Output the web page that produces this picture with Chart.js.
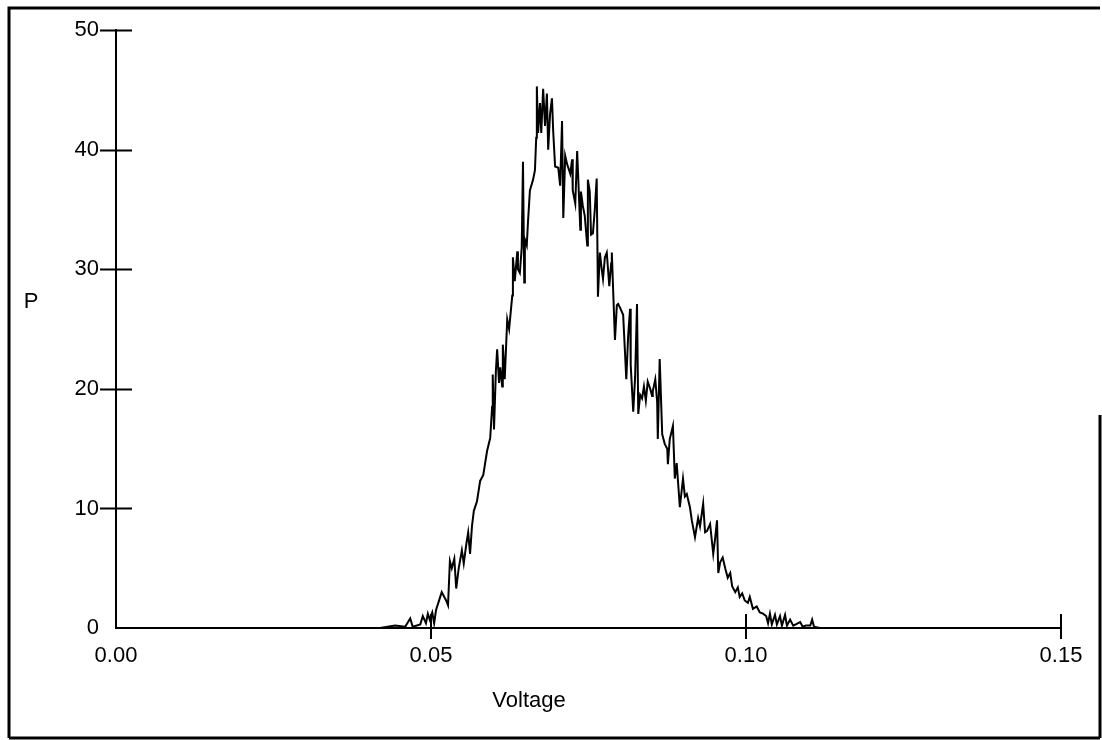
<!DOCTYPE html>
<html>
<head>
<meta charset="utf-8">
<script src="https://cdn.jsdelivr.net/npm/chart.js@4.4.1/dist/chart.umd.min.js"></script>
<style>
    html, body { margin: 0; padding: 0; background: #fff; }
    #wrap { position: relative; width: 1102px; height: 740px; }
</style>
</head>
<body>
<div id="wrap"><canvas id="myChart"></canvas></div>
<script>
// voltage (x) and P (y)
const voltage = [
    0.0000, 0.0419, 0.0443, 0.0459, 0.0467, 0.0471, 0.0483, 0.0487, 0.0492, 0.0495,
    0.0498, 0.0502, 0.0505, 0.0508, 0.0514, 0.0517, 0.0524, 0.0527, 0.0530, 0.0533,
    0.0537, 0.0540, 0.0544, 0.0549, 0.0552, 0.0556, 0.0559, 0.0562, 0.0565, 0.0568,
    0.0573, 0.0578, 0.0583, 0.0589, 0.0594, 0.0597, 0.0598, 0.0600, 0.0603, 0.0605,
    0.0608, 0.0610, 0.0613, 0.0614, 0.0617, 0.0621, 0.0624, 0.0629, 0.0630, 0.0633,
    0.0637, 0.0638, 0.0641, 0.0644, 0.0646, 0.0648, 0.0649, 0.0652, 0.0654, 0.0657,
    0.0662, 0.0665, 0.0667, 0.0668, 0.0670, 0.0673, 0.0675, 0.0678, 0.0681, 0.0684,
    0.0686, 0.0689, 0.0692, 0.0694, 0.0697, 0.0702, 0.0705, 0.0708, 0.0710, 0.0713,
    0.0716, 0.0721, 0.0724, 0.0725, 0.0729, 0.0732, 0.0737, 0.0738, 0.0741, 0.0744,
    0.0748, 0.0749, 0.0752, 0.0754, 0.0757, 0.0760, 0.0763, 0.0765, 0.0768, 0.0771,
    0.0773, 0.0776, 0.0779, 0.0783, 0.0786, 0.0787, 0.0790, 0.0792, 0.0795, 0.0797,
    0.0800, 0.0805, 0.0810, 0.0813, 0.0816, 0.0817, 0.0821, 0.0824, 0.0827, 0.0829,
    0.0832, 0.0835, 0.0838, 0.0841, 0.0844, 0.0848, 0.0851, 0.0852, 0.0856, 0.0859,
    0.0860, 0.0863, 0.0867, 0.0871, 0.0875, 0.0876, 0.0879, 0.0884, 0.0887, 0.0890,
    0.0895, 0.0900, 0.0903, 0.0906, 0.0911, 0.0914, 0.0919, 0.0924, 0.0927, 0.0932,
    0.0935, 0.0938, 0.0943, 0.0948, 0.0951, 0.0954, 0.0956, 0.0959, 0.0963, 0.0967,
    0.0971, 0.0975, 0.0978, 0.0983, 0.0987, 0.0990, 0.0994, 0.0998, 0.1003, 0.1006,
    0.1011, 0.1017, 0.1022, 0.1027, 0.1032, 0.1035, 0.1038, 0.1041, 0.1046, 0.1049,
    0.1054, 0.1057, 0.1062, 0.1065, 0.1070, 0.1075, 0.1079, 0.1086, 0.1090, 0.1095,
    0.1102, 0.1105, 0.1108, 0.1117, 0.1500
]
const pValues = [
    0, 0, 0.2, 0.1, 0.8, 0.1, 0.3, 1.0, 0.4, 1.2,
    0.7, 1.3, 0.4, 1.5, 2.5, 3.0, 2.3, 1.9, 5.6, 5.0,
    5.8, 3.3, 5.0, 6.5, 5.4, 7.0, 8.0, 6.2, 8.5, 9.8,
    10.6, 12.3, 12.8, 14.8, 15.9, 18.5, 21.2, 16.6, 21.5, 23.3,
    20.5, 21.8, 20.2, 23.7, 20.8, 25.8, 25.0, 27.8, 31.0, 29.0,
    31.5, 30.0, 29.7, 31.8, 39.0, 28.9, 32.5, 32.0, 34.0, 36.6,
    37.5, 38.3, 41.0, 45.3, 41.4, 43.9, 41.4, 45.1, 42.0, 44.7,
    40.0, 43.0, 44.3, 41.5, 38.6, 38.5, 37.0, 42.4, 34.3, 39.5,
    38.8, 38.0, 39.2, 36.6, 35.5, 39.9, 33.3, 36.5, 35.3, 34.5,
    32.0, 37.5, 36.5, 32.9, 33.0, 35.0, 37.6, 27.7, 31.4, 30.0,
    29.2, 31.0, 31.4, 28.6, 30.5, 31.4, 27.0, 24.1, 27.0, 27.1,
    26.8, 26.2, 20.8, 24.5, 26.7, 22.0, 18.1, 21.0, 27.1, 17.9,
    19.5, 19.2, 20.2, 19.0, 20.6, 20.0, 19.4, 19.8, 20.8, 18.9,
    15.8, 22.5, 16.2, 15.4, 15.0, 13.7, 15.8, 16.9, 12.5, 13.8,
    10.1, 12.5, 11.0, 11.2, 10.1, 9.0, 7.6, 9.2, 8.5, 10.4,
    8.0, 8.1, 8.7, 6.2, 7.5, 9.0, 4.6, 5.5, 5.9, 5.0,
    4.2, 4.6, 3.5, 3.0, 3.4, 2.6, 2.9, 2.3, 2.1, 2.6,
    1.6, 1.8, 1.3, 1.2, 1.0, 0.4, 1.2, 0.3, 1.1, 0.3,
    1.0, 0.2, 1.1, 0.2, 0.7, 0.2, 0.3, 0.5, 0.1, 0.2,
    0.2, 0.7, 0.1, 0, 0
]

const xTicks = [0.05, 0.10, 0.15]
const yTicks = [10, 20, 30, 40, 50]

const points = voltage.map(function (v, i) {
    return { x: v, y: pValues[i] };
});

const fontFamily = '"Liberation Sans", Arial, sans-serif'

// frame, tick marks crossing the axes and the two axis titles
const decor = {
    id: 'decor',
    afterDraw: function (chart) {
        const ctx = chart.ctx;
        const xs = chart.scales.x;
        const ys = chart.scales.y;
        const x0 = xs.getPixelForValue(0);
        const y0 = ys.getPixelForValue(0);
        ctx.save();
        ctx.strokeStyle = '#000';
        ctx.lineWidth = 2;
        ctx.beginPath();
        yTicks.forEach(function (t) {
            const py = Math.round(ys.getPixelForValue(t)) + 0.5;
            ctx.moveTo(x0 - 16, py);
            ctx.lineTo(x0 + 16, py);
        });
        xTicks.forEach(function (t) {
            const px = Math.round(xs.getPixelForValue(t));
            ctx.moveTo(px, y0 - 14);
            ctx.lineTo(px, y0 + 11);
        });
        ctx.stroke();

        ctx.lineWidth = 3;
        ctx.beginPath();
        ctx.moveTo(9, 738);
        ctx.lineTo(9, 8);
        ctx.lineTo(1100, 8);
        ctx.moveTo(9, 738);
        ctx.lineTo(1100, 738);
        ctx.moveTo(1100, 415);
        ctx.lineTo(1100, 738);
        ctx.stroke();

        ctx.fillStyle = '#000';
        ctx.font = '22px ' + fontFamily;
        ctx.textAlign = 'center';
        ctx.textBaseline = 'middle';
        ctx.fillText('P', 31, 302);
        ctx.fillText('Voltage', 529, 701);
        ctx.restore();
    }
};

const data = {
    datasets: [{
        label: 'P',
        data: points,
        borderColor: '#000',
        borderWidth: 2,
        pointRadius: 0,
        tension: 0,
        showLine: true,
        fill: false
    }]
}

const config = {
    type: 'scatter',
    data: data,
    options: {
        responsive: false,
        animation: false,
        layout: { padding: { left: 0, right: 41, top: 23, bottom: 0 } },
        plugins: {
            legend: { display: false },
            tooltip: { enabled: false }
        },
        scales: {
            x: {
                type: 'linear',
                min: 0,
                max: 0.15,
                afterFit: function (scale) { scale.height = 112; },
                afterBuildTicks: function (scale) {
                    scale.ticks = [0, 0.05, 0.10, 0.15].map(function (v) { return { value: v }; });
                },
                grid: { display: false, drawTicks: false },
                border: { display: true, color: '#000', width: 2 },
                ticks: {
                    color: '#000',
                    padding: 15,
                    maxRotation: 0,
                    autoSkip: false,
                    font: { family: fontFamily, size: 22 },
                    callback: function (v) { return v.toFixed(2); }
                }
            },
            y: {
                min: 0,
                max: 50,
                afterFit: function (scale) { scale.width = 116; },
                grid: { display: false, drawTicks: false },
                border: { display: true, color: '#000', width: 2 },
                ticks: {
                    stepSize: 10,
                    color: '#000',
                    padding: 17,
                    font: { family: fontFamily, size: 22 }
                }
            }
        }
    },
    plugins: [decor]
}

const canvas = document.getElementById('myChart');
canvas.width = 1102;
canvas.height = 740;
const myChart = new Chart(canvas, config);
</script>
</body>
</html>
